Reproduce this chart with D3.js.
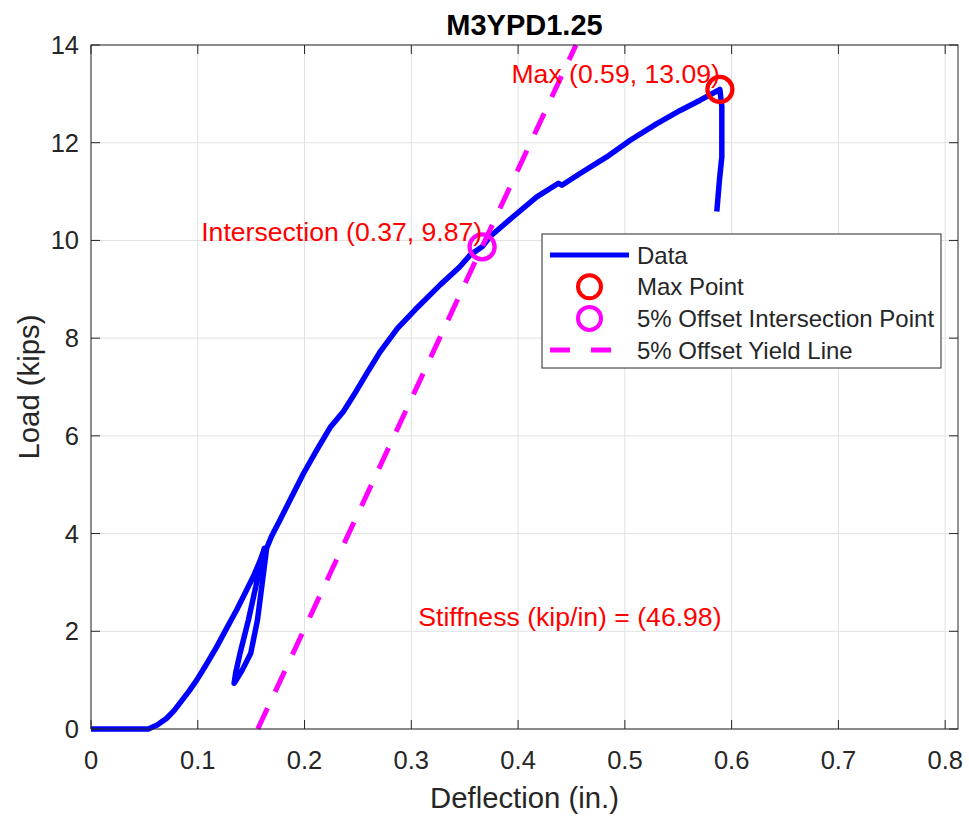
<!DOCTYPE html>
<html>
<head>
<meta charset="utf-8">
<script src="https://cdn.jsdelivr.net/npm/d3@7"></script>
<style>
  html, body { margin: 0; padding: 0; background: #fff; }
  svg { display: block; font-family: "Liberation Sans", Arial, Helvetica, sans-serif; }
</style>
</head>
<body>
<svg id="chart" width="969" height="816"></svg>
<script>
// ---------------- data ----------------
const chartTitle = "M3YPD1.25";
const xLabel = "Deflection (in.)";
const yLabel = "Load (kips)";

const deflection = [
  0, 0.02, 0.04, 0.0537,
  0.062, 0.0709, 0.078, 0.085, 0.092, 0.099, 0.108, 0.1177, 0.127, 0.1365, 0.144, 0.152, 0.1585, 0.1614, 0.1624,
  0.1586, 0.1543, 0.1474, 0.1396, 0.1355, 0.134,
  0.1365, 0.1415, 0.1496, 0.1559, 0.1599, 0.1627, 0.1645, 0.169, 0.177, 0.1895, 0.199,
  0.2114, 0.2239, 0.2364, 0.2457, 0.2583, 0.2707, 0.287, 0.3035, 0.327, 0.345,
  0.355, 0.3663, 0.3738, 0.3956, 0.4175, 0.4378, 0.441, 0.458, 0.483, 0.505,
  0.530, 0.5518, 0.5705, 0.589,
  0.5908, 0.5908, 0.5886, 0.5861
];
const load = [
  0, 0, 0, 0,
  0.08, 0.22, 0.38, 0.58, 0.78, 1.0, 1.32, 1.68, 2.06, 2.44, 2.77, 3.12, 3.45, 3.63, 3.70,
  3.39, 2.91, 2.23, 1.55, 1.15, 0.935,
  1.02, 1.2, 1.55, 2.23, 2.91, 3.39, 3.70, 3.94, 4.28, 4.82, 5.23,
  5.71, 6.17, 6.50, 6.82, 7.28, 7.72, 8.2, 8.58, 9.09, 9.45,
  9.70, 9.87, 10.08, 10.49, 10.89, 11.17, 11.13, 11.37, 11.71, 12.05,
  12.39, 12.66, 12.87, 13.09,
  12.74, 11.71, 11.24, 10.59
];

const maxPoint = [0.589, 13.09];
const intersectionPoint = [0.3663, 9.87];
const stiffness = 46.98;

const xTicks = [0, 0.1, 0.2, 0.3, 0.4, 0.5, 0.6, 0.7, 0.8];
const yTicks = [0, 2, 4, 6, 8, 10, 12, 14];
const xDomain = [0, 0.812];
const yDomain = [0, 14];

const legendLabels = ["Data", "Max Point", "5% Offset Intersection Point", "5% Offset Yield Line"];

// ---------------- layout ----------------
const plot = { left: 91, right: 958, top: 45, bottom: 729 };
const axisColor = "#262626";
const gridColor = "#e1e1e1";
const blue = "#0000ff", red = "#ff0000", magenta = "#ff00ff";

const svg = d3.select("#chart");
const x = d3.scaleLinear().domain(xDomain).range([plot.left, plot.right]);
const y = d3.scaleLinear().domain(yDomain).range([plot.bottom, plot.top]);

svg.append("defs").append("clipPath").attr("id", "clip")
  .append("rect")
  .attr("x", plot.left).attr("y", plot.top - 3)
  .attr("width", plot.right - plot.left).attr("height", plot.bottom - plot.top + 6);

// grid
const gridG = svg.append("g");
gridG.selectAll("line.gx").data(xTicks).join("line")
  .attr("x1", d => x(d)).attr("x2", d => x(d))
  .attr("y1", plot.top).attr("y2", plot.bottom)
  .attr("stroke", gridColor).attr("stroke-width", 1);
gridG.selectAll("line.gy").data(yTicks).join("line")
  .attr("y1", d => y(d)).attr("y2", d => y(d))
  .attr("x1", plot.left).attr("x2", plot.right)
  .attr("stroke", gridColor).attr("stroke-width", 1);

const plotG = svg.append("g").attr("clip-path", "url(#clip)");

// data line
const pts = deflection.map((d, i) => [d, load[i]]);
plotG.append("path")
  .datum(pts)
  .attr("d", d3.line().x(d => x(d[0])).y(d => y(d[1])))
  .attr("fill", "none").attr("stroke", blue)
  .attr("stroke-width", 5.5).attr("stroke-linejoin", "round").attr("stroke-linecap", "butt");

// yield line (offset line through intersection with slope = stiffness)
const x0 = intersectionPoint[0] - intersectionPoint[1] / stiffness;
const yieldPts = [[x0, 0], [x0 + yDomain[1] / stiffness, yDomain[1]]];
plotG.append("path")
  .datum(yieldPts)
  .attr("d", d3.line().x(d => x(d[0])).y(d => y(d[1])))
  .attr("fill", "none").attr("stroke", magenta)
  .attr("stroke-width", 5).attr("stroke-dasharray", "23,18");

// markers
const mr = 12.5, mw = 4.3;
svg.append("circle")
  .attr("cx", x(maxPoint[0])).attr("cy", y(maxPoint[1])).attr("r", mr)
  .attr("fill", "none").attr("stroke", red).attr("stroke-width", mw);
svg.append("circle")
  .attr("cx", x(intersectionPoint[0])).attr("cy", y(intersectionPoint[1])).attr("r", mr)
  .attr("fill", "none").attr("stroke", magenta).attr("stroke-width", mw);

// annotations
const annoSize = 26.6;
svg.append("text")
  .attr("x", x(maxPoint[0])).attr("y", y(maxPoint[1]) - 6)
  .attr("text-anchor", "end").attr("fill", red).attr("font-size", annoSize)
  .text(`Max (${maxPoint[0].toFixed(2)}, ${maxPoint[1].toFixed(2)})`);
svg.append("text")
  .attr("x", x(intersectionPoint[0])).attr("y", y(intersectionPoint[1]) - 6)
  .attr("text-anchor", "end").attr("fill", red).attr("font-size", annoSize)
  .text(`Intersection (${intersectionPoint[0].toFixed(2)}, ${intersectionPoint[1].toFixed(2)})`);
svg.append("text")
  .attr("x", x(0.3065)).attr("y", y(2.29))
  .attr("dominant-baseline", "central")
  .attr("text-anchor", "start").attr("fill", red).attr("font-size", annoSize)
  .text(`Stiffness (kip/in) = (${stiffness.toFixed(2)})`);

// axes box and ticks
const axG = svg.append("g");
axG.append("rect")
  .attr("x", plot.left).attr("y", plot.top)
  .attr("width", plot.right - plot.left).attr("height", plot.bottom - plot.top)
  .attr("fill", "none").attr("stroke", axisColor).attr("stroke-width", 1);
const tl = 9;
const tickSize = 25.5;
xTicks.forEach(t => {
  axG.append("line").attr("x1", x(t)).attr("x2", x(t))
    .attr("y1", plot.bottom).attr("y2", plot.bottom - tl).attr("stroke", axisColor);
  axG.append("line").attr("x1", x(t)).attr("x2", x(t))
    .attr("y1", plot.top).attr("y2", plot.top + tl).attr("stroke", axisColor);
  axG.append("text").attr("x", x(t)).attr("y", plot.bottom + 31)
    .attr("text-anchor", "middle").attr("fill", axisColor).attr("font-size", tickSize)
    .attr("dominant-baseline", "central")
    .text(d3.format("~g")(t));
});
yTicks.forEach(t => {
  axG.append("line").attr("y1", y(t)).attr("y2", y(t))
    .attr("x1", plot.left).attr("x2", plot.left + tl).attr("stroke", axisColor);
  axG.append("line").attr("y1", y(t)).attr("y2", y(t))
    .attr("x1", plot.right).attr("x2", plot.right - tl).attr("stroke", axisColor);
  axG.append("text").attr("x", plot.left - 12).attr("y", y(t))
    .attr("text-anchor", "end").attr("fill", axisColor).attr("font-size", tickSize)
    .attr("dominant-baseline", "central")
    .text(d3.format("~g")(t));
});

// axis labels and title
svg.append("text")
  .attr("x", (plot.left + plot.right) / 2).attr("y", 797)
  .attr("text-anchor", "middle").attr("dominant-baseline", "central")
  .attr("fill", axisColor).attr("font-size", 29.3).text(xLabel);
svg.append("text")
  .attr("transform", `translate(28, ${(plot.top + plot.bottom) / 2}) rotate(-90)`)
  .attr("text-anchor", "middle").attr("dominant-baseline", "central")
  .attr("fill", axisColor).attr("font-size", 29.3).text(yLabel);
svg.append("text")
  .attr("x", (plot.left + plot.right) / 2).attr("y", 25)
  .attr("text-anchor", "middle").attr("dominant-baseline", "central")
  .attr("fill", "#000").attr("font-size", 29).attr("font-weight", "bold").text(chartTitle);

// legend
const lg = svg.append("g");
const lb = { x: 542, y: 234, w: 399, h: 134 };
lg.append("rect").attr("x", lb.x).attr("y", lb.y).attr("width", lb.w).attr("height", lb.h)
  .attr("fill", "#fff").attr("stroke", axisColor).attr("stroke-width", 1);
const rowY = i => lb.y + 21 + i * 31.7;
const sx1 = lb.x + 8, sx2 = lb.x + 87, sMid = (sx1 + sx2) / 2;
lg.append("line").attr("x1", sx1).attr("x2", sx2).attr("y1", rowY(0)).attr("y2", rowY(0))
  .attr("stroke", blue).attr("stroke-width", 5);
lg.append("circle").attr("cx", sMid).attr("cy", rowY(1)).attr("r", 11.5)
  .attr("fill", "none").attr("stroke", red).attr("stroke-width", 4);
lg.append("circle").attr("cx", sMid).attr("cy", rowY(2)).attr("r", 11.5)
  .attr("fill", "none").attr("stroke", magenta).attr("stroke-width", 4);
lg.append("line").attr("x1", sx1).attr("x2", sx2 - 18).attr("y1", rowY(3)).attr("y2", rowY(3))
  .attr("stroke", magenta).attr("stroke-width", 5).attr("stroke-dasharray", "20,21");
legendLabels.forEach((s, i) => {
  lg.append("text").attr("x", lb.x + 95).attr("y", rowY(i))
    .attr("dominant-baseline", "central").attr("fill", axisColor).attr("font-size", 24)
    .text(s);
});
</script>
</body>
</html>
